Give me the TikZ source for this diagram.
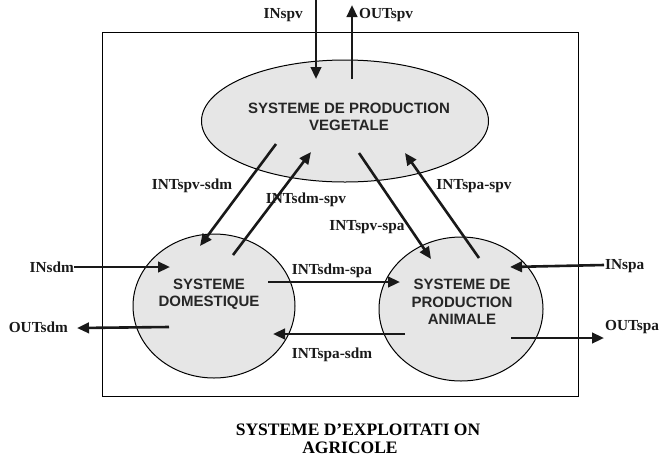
\documentclass[tikz,border=0pt]{standalone}
\usepackage{fontspec}
\setmainfont{Liberation Serif}
\newfontfamily\arialf{Liberation Sans}
\usetikzlibrary{shapes.geometric,arrows.meta}
\definecolor{sysfill}{HTML}{E6E6E6}
\begin{document}
\begin{tikzpicture}[x=1pt,y=-1pt,
  sysbox/.style={ellipse,draw=black,line width=1pt,fill=sysfill,inner sep=0pt},
  systext/.style={font=\arialf\bfseries\fontsize{15}{17.5}\selectfont,align=center,inner sep=0pt,text=black!85},
  flow/.style={line width=2.6pt,draw=black!90,-{Triangle[length=12pt,width=10.5pt]}},
  lab/.style={font=\bfseries\fontsize{15.3}{17}\selectfont,inner sep=0pt,text=black!90},
  captext/.style={font=\bfseries\fontsize{17.5}{18}\selectfont,inner sep=0pt,anchor=base}]
\useasboundingbox (0,0) rectangle (660,461);
\node[draw=black,line width=1pt,minimum width=476pt,minimum height=364pt,inner sep=0pt] (frame) at (340,214) {};
\node[sysbox,minimum width=287pt,minimum height=122pt] (spv) at (345,121) {};
\node[sysbox,minimum width=162pt,minimum height=144pt] (sdm) at (214,306) {};
\node[sysbox,minimum width=164pt,minimum height=144pt] (spa) at (461,309) {};
\node[systext] (tspv) at (349,117) {SYSTEME DE PRODUCTION\\VEGETALE};
\node[systext] (tsdm) at (209,294) {SYSTEME\\DOMESTIQUE};
\node[systext] (tspa) at (462,302) {SYSTEME DE\\PRODUCTION\\ANIMALE};
% endpoints
\coordinate (inspvA) at (316,0);   \coordinate (inspvB) at (316,79);
\coordinate (outspvA) at (352,79); \coordinate (outspvB) at (352,5);
\coordinate (psA) at (276,144); \coordinate (psB) at (200,246);
\coordinate (spA) at (233,255); \coordinate (spB) at (311,152);
\coordinate (paA) at (359,153); \coordinate (paB) at (431,259);
\coordinate (apA) at (479,258); \coordinate (apB) at (405,153);
\coordinate (insdmB) at (170,267);
\coordinate (outsdmA) at (169,327); \coordinate (outsdmB) at (77,328);
\coordinate (dsA) at (268,282); \coordinate (dsB) at (400,282);
\coordinate (sdA) at (405,334); \coordinate (sdB) at (273,334);
\coordinate (inspaA) at (604,265); \coordinate (inspaB) at (510,267);
\coordinate (outspaA) at (511,338); \coordinate (outspaB) at (604,338);
% labels
\node[lab,anchor=east] (linspv) at (303,15) {INspv};
\node[lab,anchor=west] (loutspv) at (359,15) {OUTspv};
\node[lab] (l1) at (192,186) {INTspv-sdm};
\node[lab] (l2) at (306,200) {INTsdm-spv};
\node[lab] (l3) at (367,227) {INTspv-spa};
\node[lab] (l4) at (474,186) {INTspa-spv};
\node[lab] (l5) at (332,271) {INTsdm-spa};
\node[lab] (l6) at (332,355) {INTspa-sdm};
\node[lab,anchor=east] (linsdm) at (74,267) {INsdm};
\node[lab,anchor=east] (loutsdm) at (68,327) {OUTsdm};
\node[lab,anchor=west] (linspa) at (605,266) {INspa};
\node[lab,anchor=west] (loutspa) at (605,327) {OUTspa};
\node[captext] (cap1) at (358,435) {SYSTEME D'EXPLOITATI ON};
\node[captext] (cap2) at (350,453) {AGRICOLE};
% arrows
\draw[flow] (inspvA) -- (inspvB);
\draw[flow] (outspvA) -- (outspvB);
\draw[flow] (psA) -- (psB);
\draw[flow] (spA) -- (spB);
\draw[flow] (paA) -- (paB);
\draw[flow] (apA) -- (apB);
\draw[flow] (linsdm.east) -- (insdmB);
\draw[flow] (outsdmA) -- (outsdmB);
\draw[flow] (dsA) -- (dsB);
\draw[flow] (sdA) -- (sdB);
\draw[flow] (inspaA) -- (inspaB);
\draw[flow] (outspaA) -- (outspaB);
\end{tikzpicture}
\end{document}
